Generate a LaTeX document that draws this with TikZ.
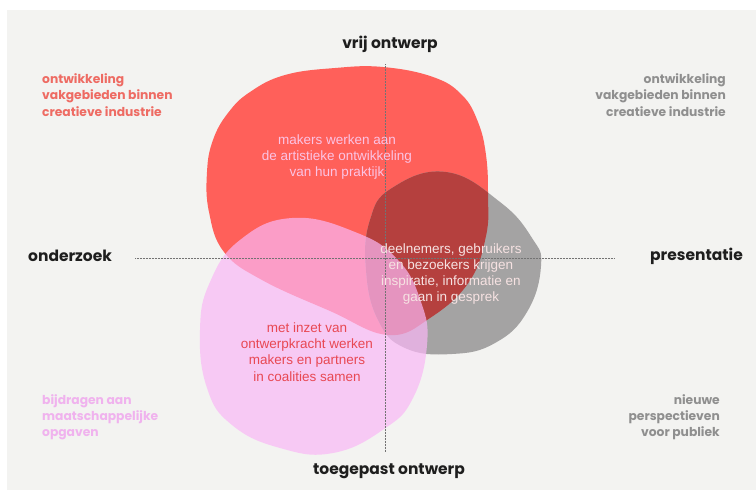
\documentclass[tikz,border=0pt]{standalone}
\usepackage{fontspec}
\setmainfont{Liberation Sans}
\newfontfamily\geo{Poppins}
\definecolor{bgc}{HTML}{F3F3F1}
\definecolor{redb}{HTML}{FF605A}
\definecolor{grayb}{HTML}{A4A3A3}
\definecolor{darkred}{HTML}{B5403E}
\definecolor{pinkb}{HTML}{FAB8F6}
\definecolor{axisc}{HTML}{1E1E1E}
\definecolor{salmon}{HTML}{EE6B63}
\definecolor{midgray}{HTML}{8F8F8F}
\definecolor{lilac}{HTML}{F0B2EE}
\definecolor{lightpink}{HTML}{FBC3E4}
\definecolor{whitepink}{HTML}{F6E2E2}
\definecolor{deepred}{HTML}{E84853}
\begin{document}
\begin{tikzpicture}[x=1pt,y=-1pt,
  axislabel/.style={font={\geo\bfseries\fontsize{15.5}{18}\selectfont},text=axisc,inner sep=0pt},
  corner/.style={font={\geo\bfseries\fontsize{12.3}{16.2}\selectfont},inner sep=0pt},
  inner/.style={font={\fontsize{13.5}{16.3}\selectfont},inner sep=0pt,align=center},
  axisline/.style={draw=black!55,line width=0.5pt,densely dotted}]
\useasboundingbox (0,0) rectangle (756,490);
\fill[white] (0,0) rectangle (756,490);
\fill[bgc] (7,10) rectangle (756,490);
% blob paths
\def\redpath{plot[smooth cycle,tension=0.7] coordinates{(383,67) (433,77) (462,95) (478,122) (486,155) (488,195) (486,236) (469,282) (430,318) (388,335) (330,311) (262,280) (224,252) (209,212) (207,172) (213,140) (228,113) (250,92) (285,75) (335,68)}}
\def\graypath{plot[smooth cycle,tension=0.75] coordinates{(446,172) (500,202) (532,238) (541,266) (527,312) (495,343) (452,354) (405,348) (378,320) (366,270) (370,220) (392,188)}}
\def\pinkpath{plot[smooth cycle,tension=0.75] coordinates{(292,218) (355,232) (398,260) (421,302) (427,345) (413,398) (384,429) (333,453) (280,448) (232,425) (207,388) (200,330) (210,282) (240,240)}}
\fill[redb] \redpath;
\fill[grayb] \graypath;
\begin{scope}
\clip \redpath;
\fill[darkred] \graypath;
\end{scope}
\fill[pinkb,fill opacity=0.7] \pinkpath;
% axes
\coordinate (hl) at (135,258);
\coordinate (hr) at (614,258);
\coordinate (vt) at (385,64);
\coordinate (vb) at (385,452);
\draw[axisline] (hl) -- (hr);
\draw[axisline] (vt) -- (vb);
% axis labels
\node[axislabel] (top) at (390,44) {vrij ontwerp};
\node[axislabel] (bot) at (389,471) {toegepast ontwerp};
\node[axislabel,anchor=west] (left) at (28,256) {onderzoek};
\node[axislabel,anchor=east] (right) at (743,256) {presentatie};
% corner texts
\node[corner,text=salmon,anchor=west,align=left] (tl) at (42,95) {ontwikkeling\\vakgebieden binnen\\creatieve industrie};
\node[corner,text=midgray,anchor=east,align=right] (tr) at (726,95) {ontwikkeling\\vakgebieden binnen\\creatieve industrie};
\node[corner,text=lilac,anchor=west,align=left] (bl) at (42,417) {bijdragen aan\\maatschappelijke\\opgaven};
\node[corner,text=midgray,anchor=east,align=right] (br) at (720,417) {nieuwe\\perspectieven\\voor publiek};
% inner texts
\node[inner,text=lightpink] (t1) at (337,157) {makers werken aan\\de artistieke ontwikkeling\\van hun praktijk};
\node[inner,text=whitepink] (t2) at (451,274) {deelnemers, gebruikers\\en bezoekers krijgen\\inspiratie, informatie en\\gaan in gesprek};
\node[inner,text=deepred] (t3) at (307,352) {met inzet van\\ontwerpkracht werken\\makers en partners\\in coalities samen};
\end{tikzpicture}
\end{document}
